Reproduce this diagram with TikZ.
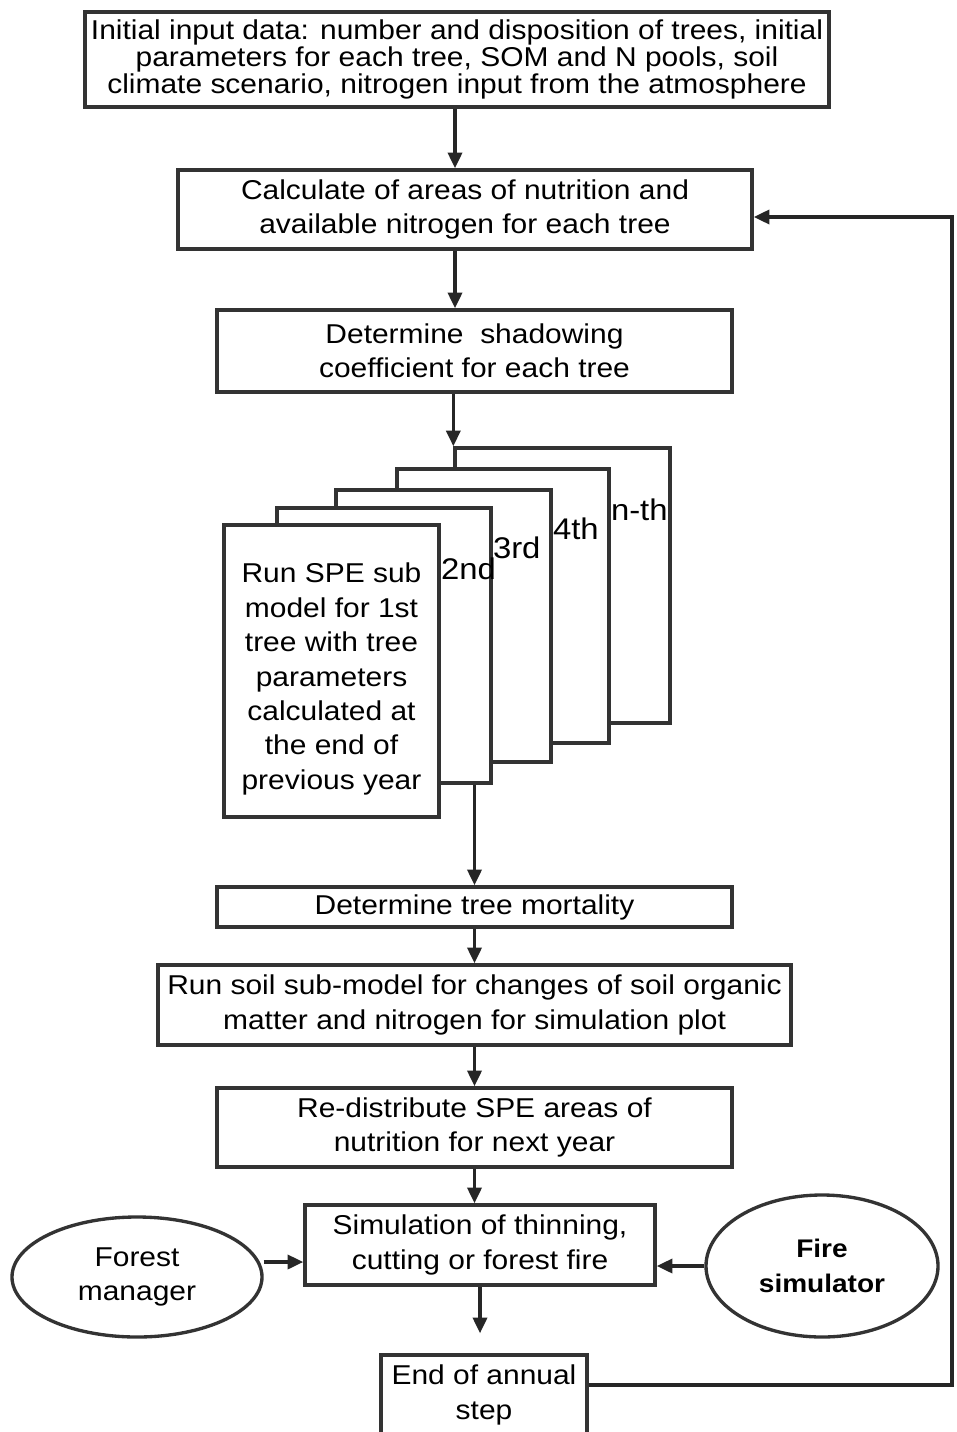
\documentclass[tikz,border=0pt]{standalone}
\usepackage{fontspec}
\setmainfont{Liberation Sans}[FakeStretch=1.1]
\usetikzlibrary{shapes.geometric,arrows.meta}
\begin{document}
\begin{tikzpicture}[x=0.02cm,y=-0.02cm,
  bx/.style={draw=black!80,line width=1.9pt,fill=white,inner sep=0pt,align=center,font=\fontsize{15.5}{19.6}\selectfont},
  stk/.style={draw=black!80,line width=1.9pt,fill=white,inner sep=0pt},
  lab/.style={anchor=west,inner sep=0pt,font=\fontsize{17}{18}\selectfont},
  txt/.style={inner sep=0pt,align=center,font=\fontsize{15.5}{19.6}\selectfont},
  ell/.style={draw=black!80,line width=1.9pt,ellipse,inner sep=0pt,align=center,font=\fontsize{15.5}{19.6}\selectfont},
  arr/.style={draw=black!85,line width=2pt,-{Triangle[length=9pt,width=8pt]}},
  ln/.style={draw=black!80,line width=1.9pt}]
\useasboundingbox (0,0) rectangle (956,1432);
\fill[white] (0,0) rectangle (956,1432);
% main boxes
\node[bx,minimum width=744*0.02cm,minimum height=95*0.02cm,font=\fontsize{15.5}{15.6}\selectfont] (b1) at (457,59.5)
  {Initial input data: number and disposition of trees, initial\\parameters for each tree, SOM and N pools, soil\\climate scenario, nitrogen input from the atmosphere};
\node[bx,minimum width=574*0.02cm,minimum height=79*0.02cm] (b2) at (465,209.5)
  {Calculate of areas of nutrition and\\available nitrogen for each tree};
\node[bx,minimum width=515*0.02cm,minimum height=82*0.02cm] (b3) at (474.5,351)
  {Determine\ \ shadowing\\coefficient for each tree};
% stack
\node[stk,minimum width=215*0.02cm,minimum height=275*0.02cm] (sn) at (562.5,585.5) {};
\node[stk,minimum width=212*0.02cm,minimum height=274*0.02cm] (s4) at (503,606) {};
\node[stk,minimum width=215*0.02cm,minimum height=272*0.02cm] (s3) at (443.5,626) {};
\node[stk,minimum width=214*0.02cm,minimum height=275*0.02cm] (s2) at (384,645.5) {};
\node[stk,minimum width=215*0.02cm,minimum height=292*0.02cm] (s1) at (331.5,671) {};
\node[txt] (s1t) at (331.5,679)
  {Run SPE sub\\model for 1st\\tree with tree\\parameters\\calculated at\\the end of\\previous year};
\node[lab] (ln) at (s4.east |- 0,510) {n-th};
\node[lab] (l4) at (s3.east |- 0,529) {4th};
\node[lab] (l3) at (s2.east |- 0,548) {3rd};
\node[lab] (l2) at (s1.east |- 0,569) {2nd};
% lower boxes
\node[bx,minimum width=515*0.02cm,minimum height=40*0.02cm] (mort) at (474.5,907) {Determine tree mortality};
\node[bx,minimum width=633*0.02cm,minimum height=80*0.02cm] (soil) at (474.5,1005)
  {Run soil sub-model for changes of soil organic\\matter and nitrogen for simulation plot};
\node[bx,minimum width=515*0.02cm,minimum height=79*0.02cm] (redis) at (474.5,1127.5)
  {Re-distribute SPE areas of\\nutrition for next year};
\node[bx,minimum width=350*0.02cm,minimum height=80*0.02cm] (sim) at (480,1245)
  {Simulation of thinning,\\cutting or forest fire};
\node[bx,minimum width=206*0.02cm,minimum height=80*0.02cm] (endb) at (484,1395)
  {End of annual\\step};
\node[ell,minimum width=250*0.02cm,minimum height=120*0.02cm] (fm) at (137,1277) {Forest\\manager};
\node[ell,minimum width=232*0.02cm,minimum height=142*0.02cm,font=\fontsize{14.5}{19.6}\selectfont\bfseries] (fire) at (822,1266) {Fire\\simulator};
% connectors
\draw[arr] (b1.south -| 455,0) -- (b2.north -| 455,0);
\draw[arr] (b2.south -| 455,0) -- (b3.north -| 455,0);
\draw[arr] (b3.south -| sn.north west) -- (sn.north west);
\draw[arr] (s2.south -| mort.north) -- (mort.north);
\draw[arr] (mort.south) -- (soil.north);
\draw[arr] (soil.south) -- (redis.north);
\draw[arr] (redis.south) -- (redis.south |- sim.north);
\draw[arr,shorten >=0.4cm] (sim.south) -- (sim.south |- endb.north);
\draw[arr] ([yshift=0.3cm]fm.east) -- ([yshift=0.3cm]fm.east -| sim.west);
\draw[arr] (fire.west) -- (fire.west -| sim.east);
\coordinate (fbb) at (952,1385);
\coordinate (fbt) at (952,217);
\draw[arr] (endb.east |- fbb) -- (fbb) -- (fbt) -- (fbt -| b2.east);
\end{tikzpicture}
\end{document}
